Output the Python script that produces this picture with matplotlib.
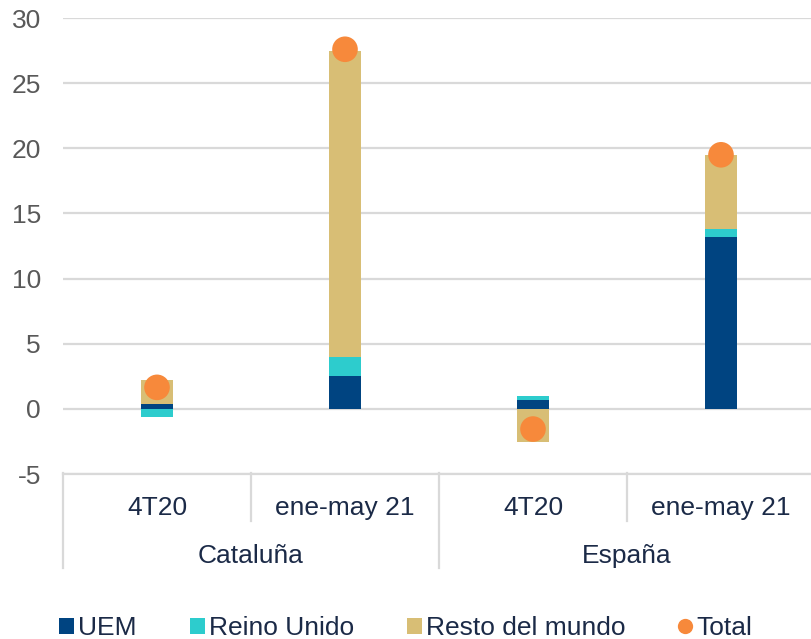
import matplotlib
matplotlib.use("Agg")
import matplotlib.pyplot as plt
from matplotlib.lines import Line2D
from matplotlib.patches import Patch
import numpy as np

plt.rcParams['font.family'] = ['Liberation Sans', 'DejaVu Sans']

# Data
periods = ["4T20", "ene-may 21", "4T20", "ene-may 21"]
regions = ["Cataluña", "España"]
series_names = ["UEM", "Reino Unido", "Resto del mundo"]
uem = [0.35, 2.5, 0.7, 13.2]
reino_unido = [-0.6, 1.5, 0.3, 0.6]
resto_mundo = [1.9, 23.5, -2.55, 5.7]
total = [1.65, 27.6, -1.55, 19.5]
yticks = [-5, 0, 5, 10, 15, 20, 25, 30]

colors = ["#004481", "#2DCCCD", "#D8BE75"]
total_color = "#F7893B"
grid_color = "#D9D9D9"
text_color = "#1B2A47"
tick_color = "#595959"
FS = 19

W, H = 811, 639
fig = plt.figure(figsize=(W / 100, H / 100), dpi=100)
ax_left, ax_right = 63, 815
ax_top, ax_bottom = 18, 474
slot = (ax_right - ax_left) / 4
ax = fig.add_axes([ax_left / W, 1 - ax_bottom / H,
                   (ax_right - ax_left) / W, (ax_bottom - ax_top) / H])

x = np.arange(len(periods))
pos_bottom = np.zeros(len(x))
neg_bottom = np.zeros(len(x))
for vals, c, name in zip([uem, reino_unido, resto_mundo], colors, series_names):
    vals = np.array(vals, dtype=float)
    bottoms = np.where(vals >= 0, pos_bottom, neg_bottom)
    ax.bar(x, vals, bottom=bottoms, width=0.17, color=c, zorder=3, label=name)
    pos_bottom += np.where(vals >= 0, vals, 0)
    neg_bottom += np.where(vals < 0, vals, 0)

ax.scatter(x, total, s=340, color=total_color, zorder=5, label="Total",
           edgecolors="none")

ax.set_xlim(-0.5, 3.5)
ax.set_ylim(-5, 30)
ax.set_yticks(yticks)
ax.set_yticklabels([str(t) for t in yticks], fontsize=FS, color=tick_color)
ax.tick_params(axis='y', length=0, pad=16)
ax.set_xticks([])
ax.grid(axis='y', color=grid_color, linewidth=1.6, zorder=0)
ax.set_axisbelow(True)
for s in ["left", "right", "top"]:
    ax.spines[s].set_visible(False)
ax.spines["bottom"].set_color(grid_color)
ax.spines["bottom"].set_linewidth(1.6)

# Two-level category axis below the plot
def fx(px):
    return px / W

def fy(py):
    return 1 - py / H

for i, lab in enumerate(periods):
    cx = ax_left + (i + 0.5) * slot
    fig.text(fx(cx), fy(508), lab, ha='center', va='center',
             fontsize=FS, color=text_color)
for j, reg in enumerate(regions):
    fig.text(fx(ax_left + (2 * j + 1) * slot), fy(556), reg, ha='center',
             va='center', fontsize=FS, color=text_color)

for k in range(5):
    px = ax_left + k * slot
    y_end = 568 if k % 2 == 0 else 521
    fig.add_artist(Line2D([fx(px), fx(px)], [fy(473), fy(y_end)],
                          color=grid_color, linewidth=1.6))

handles = [Patch(facecolor=c, edgecolor='none') for c in colors]
handles.append(Line2D([], [], marker='o', linestyle='none', markersize=11,
                      markerfacecolor=total_color, markeredgecolor='none'))
leg = fig.legend(handles, series_names + ["Total"], loc='center',
                 bbox_to_anchor=(fx(406), fy(628)), ncol=4, frameon=False,
                 fontsize=FS, handlelength=0.57, handleheight=0.57,
                 handletextpad=0.15, columnspacing=2.0)
for t in leg.get_texts():
    t.set_color(text_color)

fig.savefig("out.png", dpi=100)
